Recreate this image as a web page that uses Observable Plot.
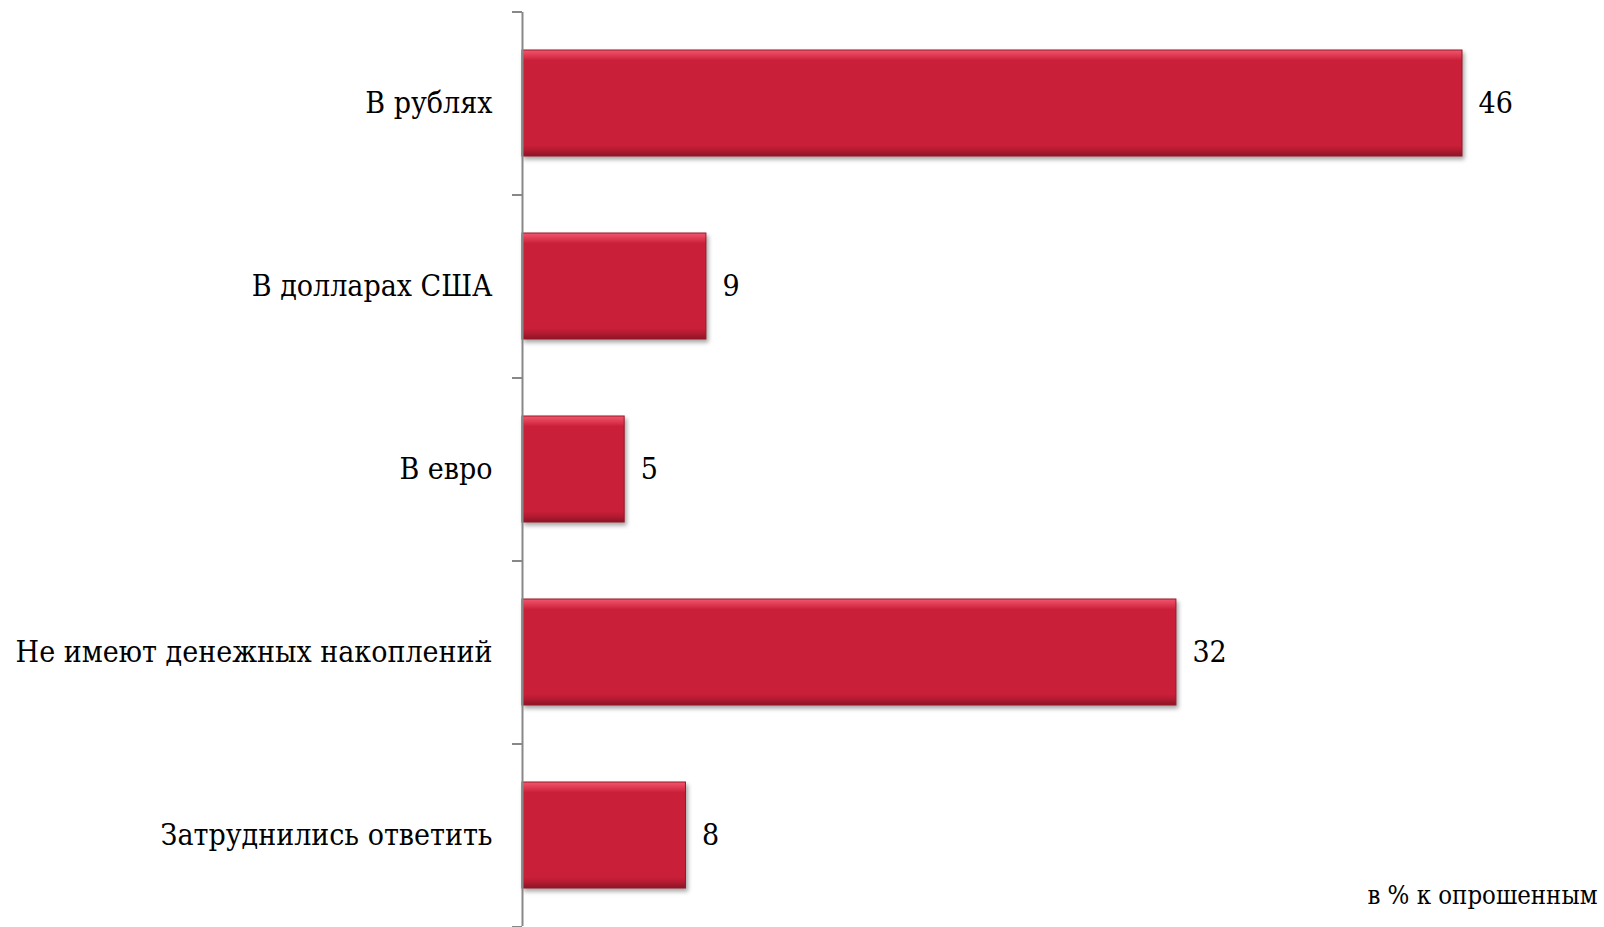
<!DOCTYPE html>
<html><head><meta charset="utf-8">
<script src="https://cdn.jsdelivr.net/npm/d3@7"></script>
<script src="https://cdn.jsdelivr.net/npm/@observablehq/plot@0.6"></script>
<style>body{margin:0;background:#fff}</style>
</head><body><div id="chart"></div>
<script>
const categories = ["В рублях","В долларах США","В евро","Не имеют денежных накоплений","Затруднились ответить"];
const values = [46, 9, 5, 32, 8];
const unitNote = "в % к опрошенным";

const data = categories.map((c, i) => ({category: c, value: values[i]}));
const font = "'DejaVu Serif Condensed', 'DejaVu Serif', serif";

const plot = Plot.plot({
  width: 1604, height: 927,
  marginLeft: 522, marginRight: 142, marginTop: 12, marginBottom: 1,
  style: {fontFamily: font, fontSize: "30px", color: "#000", background: "#fff", overflow: "visible"},
  x: {domain: [0, 46], axis: null},
  y: {domain: categories, paddingInner: 0.42, paddingOuter: 0.2, axis: null},
  marks: [
    Plot.barX(data, {x: "value", y: "category", fill: "url(#barGrad)", stroke: "#9a1729", strokeWidth: 1}),
    Plot.text(data, {x: "value", y: "category", text: d => String(d.value), textAnchor: "start", dx: 16, fontSize: 30}),
    Plot.axisY({tickSize: 0, tickPadding: 30, fontSize: 30, label: null}),
    Plot.ruleX([0], {stroke: "#888", strokeWidth: 2}),
    Plot.text([unitNote], {text: d => d, frameAnchor: "bottom-right", lineAnchor: "bottom", dx: 135, dy: -23, fontSize: 25.5, textAnchor: "end"})
  ]
});

document.getElementById("chart").appendChild(plot);

// gradient defs for bevel look
const svg = d3.select(plot);
const defs = svg.insert("defs", ":first-child");
const g = defs.append("linearGradient").attr("id", "barGrad").attr("x1", 0).attr("y1", 0).attr("x2", 0).attr("y2", 1);
[[0, "#f05870"], [0.05, "#e03a52"], [0.1, "#c91f38"], [0.9, "#c91f38"], [0.95, "#b01a31"], [1, "#8c1426"]]
  .forEach(([o, c]) => g.append("stop").attr("offset", o).attr("stop-color", c));
svg.selectAll("g[aria-label='bar']").style("filter", "drop-shadow(2px 3px 2px rgba(0,0,0,0.35))");

// category boundary ticks on the axis
const ys = plot.scale("y");
const xs = plot.scale("x");
const x0 = xs.apply(0);
const [r0] = ys.range;
const ticks = d3.range(categories.length + 1).map(i => r0 + i * ys.step);
svg.append("g").selectAll("line").data(ticks).join("line")
  .attr("x1", x0 - 10).attr("x2", x0).attr("y1", d => d).attr("y2", d => d)
  .attr("stroke", "#888").attr("stroke-width", 2);
</script>
</body></html>
